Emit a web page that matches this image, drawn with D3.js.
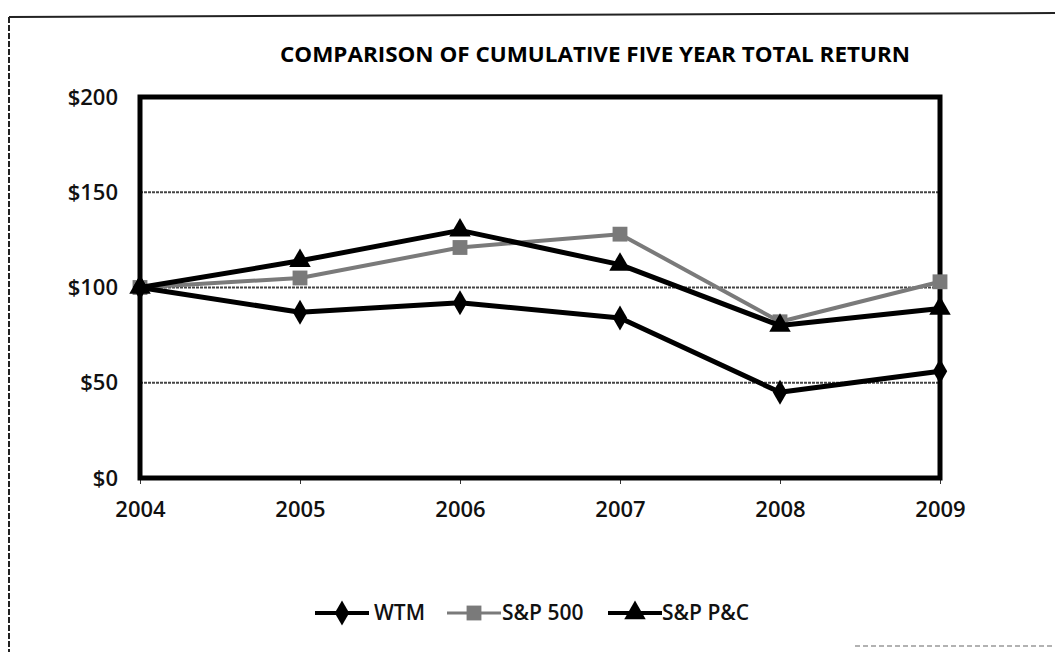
<!DOCTYPE html>
<html>
<head>
<meta charset="utf-8">
<script src="https://d3js.org/d3.v7.min.js"></script>
<style>
body {margin: 0; background: #fff;}
* {font-family: "Open Sans", "Liberation Sans", sans-serif;}
</style>
</head>
<body>
<div id="chart"></div>
<script type="text/javascript">
// chart data
var years = ["2004", "2005", "2006", "2007", "2008", "2009"];
var wtm = [100, 87, 92, 84, 45, 56];
var sp500 = [100, 105, 121, 128, 82, 103];
var spPC = [100, 114, 130, 112, 80, 89];
var seriesNames = ["WTM", "S&P 500", "S&P P&C"];
var yTicks = [0, 50, 100, 150, 200];

var width = 1055;
var height = 652;
var plotLeft = 140, plotRight = 940, plotTop = 97, plotBottom = 478;

var svg = d3.select("#chart").append("svg")
	.attr("width", width)
	.attr("height", height);

// scanned page border
svg.append("line")
	.attr("x1", 9).attr("y1", 17).attr("x2", width).attr("y2", 13)
	.attr("stroke", "#222").attr("stroke-width", 2);
svg.append("line")
	.attr("x1", 9).attr("y1", 17).attr("x2", 9).attr("y2", height)
	.attr("stroke", "#222").attr("stroke-width", 2)
	.attr("stroke-dasharray", "6,2");
svg.append("line")
	.attr("x1", 855).attr("y1", 646).attr("x2", width).attr("y2", 646)
	.attr("stroke", "#999").attr("stroke-width", 1.5)
	.attr("stroke-dasharray", "5,3");

var x = d3.scalePoint().domain(years).range([plotLeft, plotRight]);
var y = d3.scaleLinear().domain([0, 200]).range([plotBottom, plotTop]);

// title
svg.append("text")
	.attr("x", 595)
	.attr("y", 62)
	.attr("text-anchor", "middle")
	.attr("font-size", 21)
	.attr("font-weight", 700)
	.attr("textLength", 630)
	.attr("lengthAdjust", "spacingAndGlyphs")
	.text("COMPARISON OF CUMULATIVE FIVE YEAR TOTAL RETURN");

// gridlines
svg.selectAll(".grid")
	.data(yTicks.filter(function(d) { return d > 0 && d < 200; }))
	.enter().append("line")
	.attr("x1", plotLeft).attr("x2", plotRight)
	.attr("y1", function(d) { return y(d); })
	.attr("y2", function(d) { return y(d); })
	.attr("stroke", "#444")
	.attr("stroke-width", 1.8)
	.attr("stroke-dasharray", "3,1");

// y axis labels
var yAxis = svg.append("g")
	.attr("transform", "translate(" + (plotLeft - 22) + ",0)")
	.call(d3.axisLeft(y).tickValues(yTicks).tickSize(0).tickPadding(0)
		.tickFormat(function(d) { return "$" + d; }));
yAxis.select(".domain").remove();
yAxis.selectAll("text")
	.attr("font-size", 22)
	.attr("font-weight", 600)
	.attr("fill", "#111")
	.attr("font-family", "Open Sans");

// x axis labels
var xAxis = svg.append("g")
	.attr("transform", "translate(0," + plotBottom + ")")
	.call(d3.axisBottom(x).tickSize(6).tickPadding(17));
xAxis.select(".domain").remove();
xAxis.selectAll("line").attr("stroke", "#333").attr("stroke-width", 1);
xAxis.selectAll("text")
	.attr("font-size", 22)
	.attr("font-weight", 600)
	.attr("fill", "#111")
	.attr("font-family", "Open Sans");

// plot frame
svg.append("rect")
	.attr("x", plotLeft).attr("y", plotTop)
	.attr("width", plotRight - plotLeft).attr("height", plotBottom - plotTop)
	.attr("fill", "none")
	.attr("stroke", "#000")
	.attr("stroke-width", 5);

var line = d3.line()
	.x(function(d, i) { return x(years[i]); })
	.y(function(d) { return y(d); });

var diamond = d3.symbol().type(d3.symbolDiamond).size(180);
var square = d3.symbol().type(d3.symbolSquare).size(220);
var triangle = d3.symbol().type(d3.symbolTriangle).size(200);

var series = [
	{name: seriesNames[0], values: wtm, color: "#000", width: 5, shape: diamond},
	{name: seriesNames[1], values: sp500, color: "#7a7a7a", width: 4, shape: square},
	{name: seriesNames[2], values: spPC, color: "#000", width: 5, shape: triangle}
];

// draw S&P 500 first so the black lines sit on top, like the scan
[series[1], series[0], series[2]].forEach(function(s) {
	svg.append("path")
		.datum(s.values)
		.attr("d", line)
		.attr("fill", "none")
		.attr("stroke", s.color)
		.attr("stroke-width", s.width)
		.attr("stroke-linejoin", "round");
	svg.selectAll(null)
		.data(s.values)
		.enter().append("path")
		.attr("d", s.shape)
		.attr("transform", function(d, i) { return "translate(" + x(years[i]) + "," + y(d) + ")"; })
		.attr("fill", s.color);
});

// legend
var legendX = [315, 447, 608];
var textX = [374, 502, 662];
var legendY = 613;
series.forEach(function(s, i) {
	var g = svg.append("g");
	g.append("line")
		.attr("x1", legendX[i]).attr("x2", legendX[i] + 54)
		.attr("y1", legendY).attr("y2", legendY)
		.attr("stroke", s.color)
		.attr("stroke-width", i == 1 ? 3 : 4);
	g.append("path")
		.attr("d", s.shape)
		.attr("transform", "translate(" + (legendX[i] + 27) + "," + legendY + ")")
		.attr("fill", s.color);
	g.append("text")
		.attr("x", textX[i])
		.attr("y", legendY)
		.attr("dy", "0.35em")
		.attr("font-size", 21)
		.attr("font-weight", 600)
		.attr("fill", "#111")
		.text(s.name);
});
</script>
</body>
</html>
